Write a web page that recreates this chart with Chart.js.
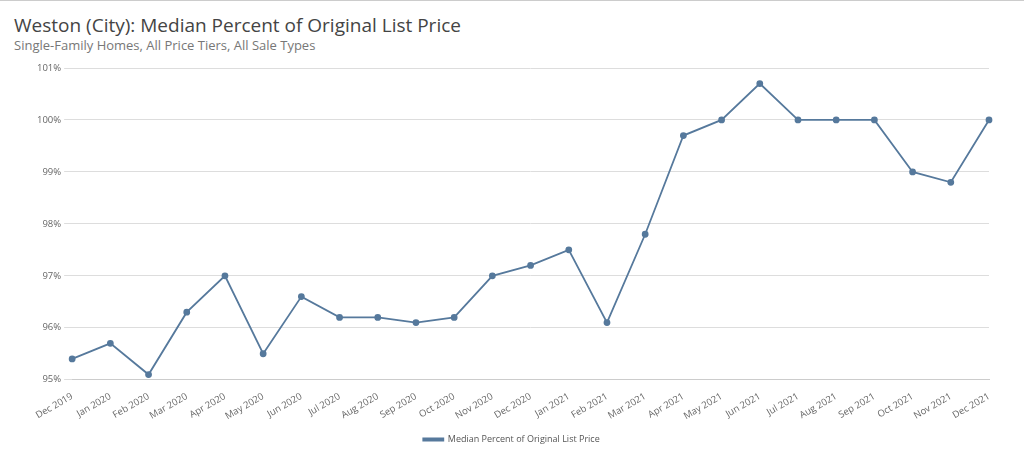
<!DOCTYPE html>
<html><head><meta charset="utf-8">
<script src="https://cdn.jsdelivr.net/npm/chart.js@4"></script>
<style>
html,body{margin:0;padding:0;background:#fff;width:1024px;height:469px;overflow:hidden;font-family:"Open Sans",sans-serif;}
#top{position:absolute;left:0;top:0;width:1024px;height:1px;background:#ccc;}
#t{position:absolute;left:14px;top:12px;font-size:19px;color:#444;}
#s{position:absolute;left:14px;top:36px;font-size:13px;color:#777;}
#w{position:absolute;left:0;top:58px;width:1024px;height:400px;}
</style></head><body>
<div id="top"></div>
<div id="t">Weston (City): Median Percent of Original List Price</div>
<div id="s">Single-Family Homes, All Price Tiers, All Sale Types</div>
<div id="w"><canvas id="c"></canvas></div>
<script>
const labels=["Dec 2019","Jan 2020","Feb 2020","Mar 2020","Apr 2020","May 2020","Jun 2020","Jul 2020","Aug 2020","Sep 2020","Oct 2020","Nov 2020","Dec 2020","Jan 2021","Feb 2021","Mar 2021","Apr 2021","May 2021","Jun 2021","Jul 2021","Aug 2021","Sep 2021","Oct 2021","Nov 2021","Dec 2021"];
const values=[95.4,95.7,95.1,96.3,97.0,95.5,96.6,96.2,96.2,96.1,96.2,97.0,97.2,97.5,96.1,97.8,99.7,100.0,100.7,100.0,100.0,100.0,99.0,98.8,100.0];
const seriesName="Median Percent of Original List Price";
const color="#56799c";
new Chart(document.getElementById('c'),{type:'line',
data:{labels,datasets:[{label:seriesName,data:values,borderColor:color,backgroundColor:color,borderWidth:1.8,pointRadius:2.5,tension:0}]},
options:{responsive:true,maintainAspectRatio:false,animation:false,
layout:{padding:{left:34,right:35,top:10,bottom:4}},
plugins:{legend:{position:'bottom',labels:{boxWidth:20,boxHeight:2,color:'#555',font:{size:9,family:'Open Sans'}}}},
scales:{x:{grid:{display:false},ticks:{color:'#666',font:{size:9.5,family:'Open Sans'},maxRotation:30,minRotation:30,autoSkip:false},border:{color:'#ccc'}},
y:{min:95,max:101,ticks:{stepSize:1,color:'#666',font:{size:9.5,family:'Open Sans'},callback:v=>v+'%'},grid:{color:'#ddd'},border:{display:false}}}}});
</script></body></html>
